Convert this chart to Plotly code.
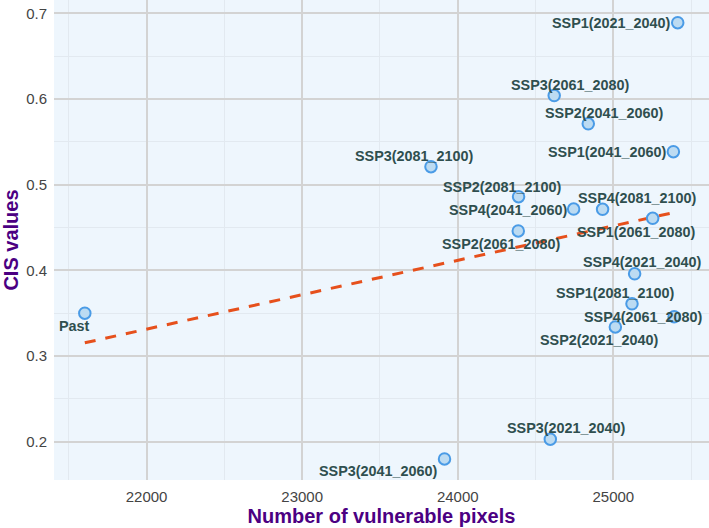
import plotly.graph_objects as go

labels = ["Past", "SSP1(2021_2040)", "SSP3(2061_2080)", "SSP2(2041_2060)", "SSP1(2041_2060)",
          "SSP3(2081_2100)", "SSP2(2081_2100)", "SSP4(2041_2060)", "SSP4(2081_2100)",
          "SSP1(2061_2080)", "SSP2(2061_2080)", "SSP4(2021_2040)", "SSP1(2081_2100)",
          "SSP4(2061_2080)", "SSP2(2021_2040)", "SSP3(2021_2040)", "SSP3(2041_2060)"]
pixels = [21603, 25414, 24620, 24839, 25386, 23828, 24391, 24745, 24931,
          25253, 24389, 25137, 25120, 25391, 25013, 24595, 23915]
cis = [0.350, 0.689, 0.604, 0.571, 0.5385, 0.521, 0.486, 0.4716, 0.4713,
       0.4608, 0.446, 0.396, 0.361, 0.346, 0.334, 0.203, 0.180]

trend_x = [21603, 25414]
trend_y = [0.3155, 0.4685]

# label offsets in screen pixels (dx right, dy down)
label_dx = [-10, -66, 16, 16.6, -65.6, -16, -16, -65.5, 34.7, -15.7, -16.3, 8.3, -16.2, -30.7, -16.3, 15.8, -66]
label_dy = [13, 0, -10.7, -10.7, 0.6, -11, -10, 1, -11, 13.4, 13.3, -11.7, -10.7, 0, 12.6, -11, 12]

FONT = "Liberation Sans, Arial, sans-serif"

fig = go.Figure()
fig.add_trace(go.Scatter(
    x=trend_x, y=trend_y, mode="lines",
    line=dict(color="#E6501C", width=3, dash="11px,10px"),
    showlegend=False, hoverinfo="skip"))
fig.add_trace(go.Scatter(
    x=pixels, y=cis, mode="markers",
    marker=dict(size=11.5, color="#BCDBF2", line=dict(color="#4A9BE6", width=2)),
    showlegend=False))

for lab, xv, yv, dx, dy in zip(labels, pixels, cis, label_dx, label_dy):
    fig.add_annotation(x=xv, y=yv, text=lab, showarrow=False,
                       xanchor="center", yanchor="middle",
                       xshift=dx, yshift=-dy,
                       font=dict(family=FONT, size=14.4, color="#2F4F4F", weight="bold"))

fig.update_layout(
    width=709, height=528,
    margin=dict(l=54, r=0, t=0, b=48),
    paper_bgcolor="white", plot_bgcolor="#EEF6FD",
    font=dict(family=FONT, color="#444"),
)
fig.update_xaxes(
    range=[21405, 25615], dtick=1000, tick0=0, tickformat="d",
    showgrid=True, gridcolor="#D3D3D3", gridwidth=2,
    minor=dict(dtick=500, showgrid=True, gridcolor="#E2E9F0", gridwidth=1),
    zeroline=False, showline=False,
    ticks="outside", ticklen=3, tickcolor="rgba(0,0,0,0)",
    tickfont=dict(family=FONT, size=15, color="#444"),
    title=dict(text="Number of vulnerable pixels", standoff=2,
               font=dict(family=FONT, size=20, color="#4B0082", weight="bold")),
)
fig.update_yaxes(
    range=[0.1554, 0.7155], dtick=0.1, tick0=0,
    showgrid=True, gridcolor="#D3D3D3", gridwidth=2,
    minor=dict(dtick=0.05, showgrid=True, gridcolor="#E2E9F0", gridwidth=1),
    zeroline=False, showline=False,
    ticks="outside", ticklen=3, tickcolor="rgba(0,0,0,0)",
    tickfont=dict(family=FONT, size=15, color="#444"),
    title=dict(text="CIS values", standoff=5,
               font=dict(family=FONT, size=20, color="#4B0082", weight="bold")),
)

fig.write_html("out.html")
